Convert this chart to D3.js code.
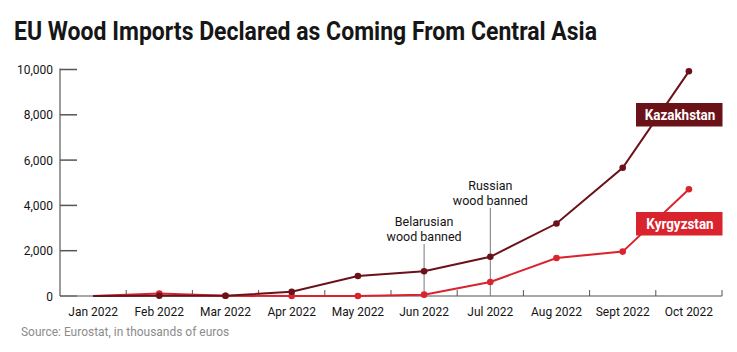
<!DOCTYPE html>
<html>
<head>
  <meta charset="utf-8">
  <style>
    body { margin: 0; background: #fff; }
    svg { display: block; font-family: Roboto, sans-serif; }
    .tick-label { font-size: 13px; fill: #141414; }
    .note { font-size: 13px; fill: #141414; }
  </style>
</head>
<body>
  <script src="https://cdn.jsdelivr.net/npm/d3@7"></script>
  <script>
    var width = 737;
    var height = 352;

    // months on the x axis
    const months = ["Jan 2022", "Feb 2022", "Mar 2022", "Apr 2022", "May 2022",
      "Jun 2022", "Jul 2022", "Aug 2022", "Sept 2022", "Oct 2022"];
    // thousands of euros
    const kazakhstan = [0, 10, 10, 190, 880, 1090, 1730, 3200, 5660, 9920];
    const kyrgyzstan = [0, 110, 10, 0, 0, 60, 620, 1680, 1960, 4710];
    const yTicks = [0, 2000, 4000, 6000, 8000, 10000];

    const darkRed = "#6b1218";
    const red = "#d9232d";

    var svg = d3.select("body").append("svg")
      .attr("width", width)
      .attr("height", height);

    // condensed look: squeeze the text horizontally
    function condense(sel, f) {
      sel.each(function () {
        var w = this.getComputedTextLength();
        d3.select(this).attr("textLength", w * f).attr("lengthAdjust", "spacingAndGlyphs");
      });
    }

    var x = d3.scaleBand().domain(months).range([60, 722]);
    var y = d3.scaleLinear().domain([0, 10000]).range([296, 69.5]);
    var cx = d => x(d) + x.bandwidth() / 2;

    // title
    var title = svg.append("text")
      .attr("x", 14).attr("y", 40)
      .style("font-size", "25px").style("font-weight", "700").style("fill", "#161616")
      .text("EU Wood Imports Declared as Coming From Central Asia");
    title.attr("textLength", 583).attr("lengthAdjust", "spacingAndGlyphs");

    // y axis
    svg.append("line")
      .attr("x1", 60).attr("x2", 60).attr("y1", y(10000) - 1).attr("y2", 296)
      .style("stroke", "#7a7a7a").style("stroke-width", 1.5);
    svg.selectAll(".ytick").data(yTicks).join("line")
      .attr("class", "ytick")
      .attr("x1", 60).attr("x2", 77)
      .attr("y1", d => y(d)).attr("y2", d => y(d))
      .style("stroke", "#555").style("stroke-width", 1.5);
    svg.selectAll(".ylab").data(yTicks).join("text")
      .attr("class", "ylab tick-label")
      .attr("x", 53).attr("y", d => y(d) + 4.5)
      .attr("text-anchor", "end")
      .text(d3.format(","))
      .call(condense, 0.92);

    // x axis
    svg.append("line")
      .attr("x1", 77).attr("x2", 722).attr("y1", 296).attr("y2", 296)
      .style("stroke", "#8a8a8a").style("stroke-width", 1.5);
    svg.selectAll(".xtick").data(months.slice(1).concat(["end"])).join("line")
      .attr("class", "xtick")
      .attr("x1", d => d == "end" ? 722 : x(d)).attr("x2", d => d == "end" ? 722 : x(d))
      .attr("y1", 290).attr("y2", 296)
      .style("stroke", "#555").style("stroke-width", 1);
    svg.selectAll(".xlab").data(months).join("text")
      .attr("class", "xlab tick-label")
      .attr("x", cx).attr("y", 315.5)
      .attr("text-anchor", "middle")
      .text(d => d)
      .call(condense, 0.92);

    // annotations
    const notes = [
      { month: "Jun 2022", lines: ["Belarusian", "wood banned"], top: 244, y0: 226 },
      { month: "Jul 2022", lines: ["Russian", "wood banned"], top: 208, y0: 190 }
    ];
    notes.forEach(n => {
      svg.append("line")
        .attr("x1", cx(n.month)).attr("x2", cx(n.month))
        .attr("y1", n.top).attr("y2", 296)
        .style("stroke", "#777").style("stroke-width", 1);
      svg.selectAll(null).data(n.lines).join("text")
        .attr("class", "note")
        .attr("x", cx(n.month)).attr("y", (d, i) => n.y0 + i * 14.5)
        .attr("text-anchor", "middle")
        .text(d => d)
        .call(condense, 0.96);
    });

    // series
    var line = d3.line().x((d, i) => cx(months[i])).y(d => y(d));
    const series = [
      { name: "Kyrgyzstan", values: kyrgyzstan, color: red, box: [212, 235.5] },
      { name: "Kazakhstan", values: kazakhstan, color: darkRed, box: [103, 126.5] }
    ];
    series.forEach(s => {
      svg.append("path")
        .datum(s.values)
        .attr("d", line)
        .style("fill", "none")
        .style("stroke", s.color)
        .style("stroke-width", 2);
      svg.selectAll(null).data(s.values.slice(1)).join("circle")
        .attr("cx", (d, i) => cx(months[i + 1]))
        .attr("cy", d => y(d))
        .attr("r", 3.3)
        .style("fill", s.color);
    });

    // legend boxes
    series.forEach(s => {
      svg.append("rect")
        .attr("x", 636).attr("y", s.box[0])
        .attr("width", 86.5).attr("height", s.box[1] - s.box[0])
        .style("fill", s.color);
      svg.append("text")
        .attr("x", 680).attr("y", (s.box[0] + s.box[1]) / 2 + 4.8)
        .attr("text-anchor", "middle")
        .style("font-size", "14px").style("font-weight", "700").style("fill", "#fff")
        .text(s.name)
        .call(condense, 0.96);
    });

    // source
    svg.append("text")
      .attr("x", 21).attr("y", 336)
      .style("font-size", "13px").style("fill", "#8c8c8c")
      .text("Source: Eurostat, in thousands of euros")
      .call(condense, 0.92);
  </script>
</body>
</html>
